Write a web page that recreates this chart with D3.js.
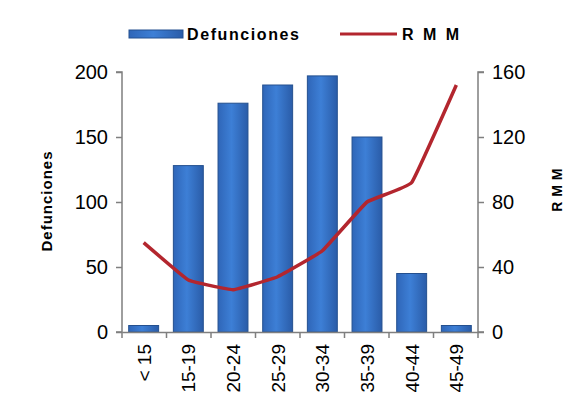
<!DOCTYPE html>
<html>
<head>
<meta charset="utf-8">
<script src="https://cdn.jsdelivr.net/npm/d3@7"></script>
<style>
  body { margin: 0; background: #fff; }
  text { font-family: "Liberation Sans", Arial, sans-serif; }
</style>
</head>
<body>
<div id="chart-area"></div>
<script>
// data
var categories = ['< 15', '15-19', '20-24', '25-29', '30-34', '35-39', '40-44', '45-49']
var defunciones = [5, 128, 176, 190, 197, 150, 45, 5]
var rmm = [55, 32, 26, 34, 50, 80, 92, 152]
var leftTicks = [0, 50, 100, 150, 200]
var rightTicks = [0, 40, 80, 120, 160]

var margin = { left: 122, right: 102, top: 72, bottom: 71 }
var width = 580 - margin.left - margin.right
var height = 403 - margin.top - margin.bottom

var svg = d3.select('#chart-area')
    .append('svg')
        .attr('width', 580)
        .attr('height', 403)

var defs = svg.append('defs')
var grad = defs.append('linearGradient')
    .attr('id', 'barGrad')
    .attr('x1', 0).attr('x2', 1).attr('y1', 0).attr('y2', 0)
grad.append('stop').attr('offset', '0%').attr('stop-color', '#2f66b8')
grad.append('stop').attr('offset', '45%').attr('stop-color', '#3d7fd6')
grad.append('stop').attr('offset', '100%').attr('stop-color', '#2a5ca8')

var g = svg.append('g')
    .attr('transform', `translate(${margin.left}, ${margin.top})`)

var x = d3.scaleBand()
    .domain(categories)
    .range([0, width])
    .paddingInner(0.33)
    .paddingOuter(0.15)

var y = d3.scaleLinear().domain([0, 200]).range([height, 0])
var y2 = d3.scaleLinear().domain([0, 160]).range([height, 0])

// bars
g.selectAll('rect.bar')
    .data(defunciones)
    .enter()
    .append('rect')
        .attr('class', 'bar')
        .attr('x', (d, i) => x(categories[i]))
        .attr('y', d => y(d))
        .attr('width', x.bandwidth())
        .attr('height', d => height - y(d))
        .attr('fill', 'url(#barGrad)')
        .attr('stroke', '#24508f')
        .attr('stroke-width', 1)

// line
var line = d3.line()
    .x((d, i) => x(categories[i]) + x.bandwidth() / 2)
    .y(d => y2(d))
    .curve(d3.curveCardinal.tension(0.75))

g.append('path')
    .datum(rmm)
    .attr('d', line)
    .attr('fill', 'none')
    .attr('stroke', '#b3262e')
    .attr('stroke-width', 3.5)
    .attr('stroke-linejoin', 'round')

// axes
var axisColor = '#7f7f7f'

var leftAxis = g.append('g')
    .call(d3.axisLeft(y).tickValues(leftTicks).tickSize(6).tickPadding(8))
var rightAxis = g.append('g')
    .attr('transform', `translate(${width}, 0)`)
    .call(d3.axisRight(y2).tickValues(rightTicks).tickSize(6).tickPadding(8))

var xAxis = g.append('g')
    .attr('transform', `translate(0, ${height})`)
    .call(d3.axisBottom(x).tickSize(0).tickPadding(0).tickFormat(''))

// x tick marks at category boundaries
var bounds = d3.range(categories.length + 1).map(i => (width / categories.length) * i)
xAxis.selectAll('line.bound')
    .data(bounds)
    .enter()
    .append('line')
        .attr('class', 'bound')
        .attr('x1', d => d).attr('x2', d => d)
        .attr('y1', 0).attr('y2', 6)
        .attr('stroke', axisColor)
        .attr('stroke-width', 1.5)

// x labels
xAxis.selectAll('text.cat')
    .data(categories)
    .enter()
    .append('text')
        .attr('class', 'cat')
        .attr('transform', d => `translate(${x(d) + x.bandwidth() / 2 + 7}, 12) rotate(-90)`)
        .attr('text-anchor', 'end')
        .attr('font-size', '19px')
        .attr('fill', '#000')
        .text(d => d)

;[leftAxis, rightAxis, xAxis].forEach(a => {
    a.selectAll('.domain').attr('stroke', axisColor).attr('stroke-width', 1.5)
    a.selectAll('.tick line').attr('stroke', axisColor).attr('stroke-width', 1.5)
    a.selectAll('.tick text').attr('font-size', '20px').attr('fill', '#000')
        .attr('font-family', '"Liberation Sans", Arial, sans-serif')
})
leftAxis.select('.domain').attr('d', `M-6,0H0V${height}H-6`)
rightAxis.select('.domain').attr('d', `M6,0H0V${height}H6`)

// axis titles
svg.append('text')
    .attr('transform', `translate(52, 201) rotate(-90)`)
    .attr('text-anchor', 'middle')
    .attr('font-size', '15px')
    .attr('font-weight', 'bold')
    .attr('letter-spacing', '1px')
    .text('Defunciones')

svg.append('text')
    .attr('transform', `translate(562, 190) rotate(-90)`)
    .attr('text-anchor', 'middle')
    .attr('font-size', '14px')
    .attr('font-weight', 'bold')
    .attr('letter-spacing', '0.5px')
    .text('R M M')

// legend
var legend = svg.append('g')
legend.append('rect')
    .attr('x', 129).attr('y', 30)
    .attr('width', 54).attr('height', 8)
    .attr('fill', 'url(#barGrad)')
    .attr('stroke', '#24508f')
legend.append('text')
    .attr('x', 187).attr('y', 40)
    .attr('font-size', '16px')
    .attr('font-weight', 'bold')
    .attr('letter-spacing', '1.6px')
    .text('Defunciones')
legend.append('line')
    .attr('x1', 340).attr('x2', 397)
    .attr('y1', 34).attr('y2', 34)
    .attr('stroke', '#b3262e')
    .attr('stroke-width', 3)
legend.append('text')
    .attr('x', 402).attr('y', 40)
    .attr('font-size', '16px')
    .attr('font-weight', 'bold')
    .attr('letter-spacing', '2.5px')
    .text('R M M')
</script>
</body>
</html>
